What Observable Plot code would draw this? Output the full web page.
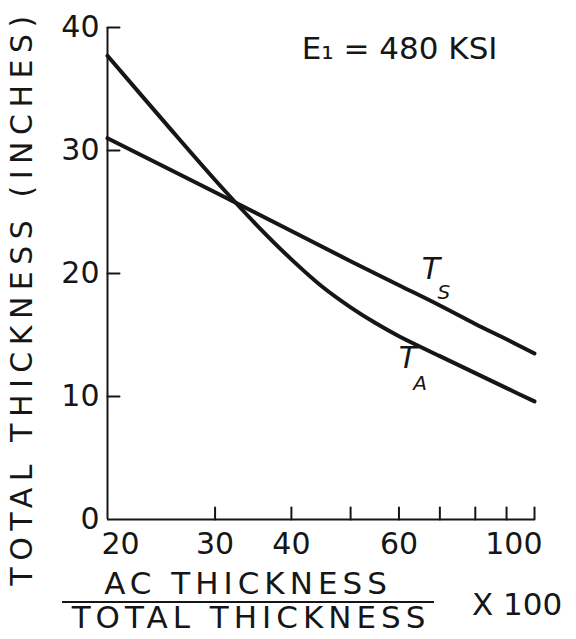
<!DOCTYPE html>
<html>
<head>
<meta charset="utf-8">
<script src="https://cdn.jsdelivr.net/npm/d3@7"></script>
<script src="https://cdn.jsdelivr.net/npm/@observablehq/plot@0.6"></script>
<style>
  html, body { margin: 0; padding: 0; background: #ffffff; }
  #chart { width: 576px; height: 639px; }
  #chart svg text { font-family: "DejaVu Sans", sans-serif; }
</style>
</head>
<body>
<div id="chart"></div>
<script>
// ---- data ----
const ratioA = [20, 25, 30, 35, 40, 45, 50, 55, 60, 70, 80, 90, 100];        // AC thickness / total thickness x 100
const thickA = [37.7, 32.1, 27.6, 24.0, 21.15, 18.9, 17.25, 15.95, 14.9, 13.28, 11.9, 10.68, 9.6]; // T_A (inches)
const ratioS = [20, 30, 40, 50, 60, 70, 80, 90, 100];
const thickS = [31.0, 26.6, 23.45, 21.0, 19.05, 17.4, 15.9, 14.65, 13.5];     // T_S (inches)
const xTicks = [30, 40, 50, 60, 70, 80, 90, 100];
const xTickLabels = [20, 30, 40, 60, 100];
const yTicks = [10, 20, 30, 40];
const yTickLabels = [0, 10, 20, 30, 40];
const yTitle = "TOTAL THICKNESS (INCHES)";
const xTitleTop = "AC THICKNESS";
const xTitleBottom = "TOTAL THICKNESS";
const xTitleFactor = "X 100";
const note = "E\u2081 = 480 KSI";
const seriesNames = ["T", "T"];
const seriesSubs = ["S", "A"];

// ---- build tables ----
const rowsA = ratioA.map((r, i) => ({r, t: thickA[i]}));
const rowsS = ratioS.map((r, i) => ({r, t: thickS[i]}));
const labS = rowsS.find(d => d.r === 70);
const labA = rowsA.find(d => d.r === 60);

const ink = "#161616";
const tickShape = {draw(ctx, l) { ctx.moveTo(0, 0); ctx.lineTo(0, -l); }};

const chart = Plot.plot({
  width: 576,
  height: 639,
  marginLeft: 107,
  marginRight: 42,
  marginTop: 27,
  marginBottom: 120,
  x: {type: "log", domain: [20, 100], axis: null},
  y: {domain: [0, 40], axis: null},
  style: {background: "#ffffff", color: ink, fontFamily: "DejaVu Sans"},
  marks: [
    // axis lines
    Plot.ruleX([20], {y1: 0, y2: 40, stroke: ink, strokeWidth: 2}),
    Plot.ruleY([0], {x1: 20, x2: 100, stroke: ink, strokeWidth: 2}),
    // inward ticks
    Plot.vector(xTicks, {x: d => d, y: () => 0, length: 12, anchor: "start", rotate: 0, shape: tickShape, stroke: ink, strokeWidth: 2}),
    Plot.vector(yTicks, {x: () => 20, y: d => d, length: 12, anchor: "start", rotate: 90, shape: tickShape, stroke: ink, strokeWidth: 2}),
    // tick labels
    Plot.text(yTickLabels, {x: () => 20, y: d => d, text: d => String(d), textAnchor: "end", lineAnchor: "middle", dx: -8, fontSize: 30, fill: ink}),
    Plot.text(xTickLabels.slice(1, -1), {x: d => d, y: () => 0, text: d => String(d), lineAnchor: "middle", dy: 25, fontSize: 30, fill: ink}),
    Plot.text(xTickLabels.slice(0, 1), {x: d => d, y: () => 0, text: d => String(d), textAnchor: "start", lineAnchor: "middle", dx: -6, dy: 25, fontSize: 30, fill: ink}),
    Plot.text(xTickLabels.slice(-1), {x: d => d, y: () => 0, text: d => String(d), textAnchor: "end", lineAnchor: "middle", dx: 8, dy: 25, fontSize: 30, fill: ink}),
    // curves
    Plot.line(rowsS, {x: "r", y: "t", stroke: ink, strokeWidth: 4, curve: "catmull-rom"}),
    Plot.line(rowsA, {x: "r", y: "t", stroke: ink, strokeWidth: 4, curve: "catmull-rom"}),
    // curve labels
    Plot.text([labS], {x: "r", y: "t", text: () => seriesNames[0], dx: -9, dy: -36, fontSize: 30, fontStyle: "italic", fill: ink}),
    Plot.text([labS], {x: "r", y: "t", text: () => seriesSubs[0], dx: 4, dy: -13, fontSize: 20, fontStyle: "italic", fill: ink}),
    Plot.text([labA], {x: "r", y: "t", text: () => seriesNames[1], dx: 9, dy: 22, fontSize: 30, fontStyle: "italic", fill: ink}),
    Plot.text([labA], {x: "r", y: "t", text: () => seriesSubs[1], dx: 21, dy: 47, fontSize: 20, fontStyle: "italic", fill: ink}),
    // note
    Plot.text([note], {frameAnchor: "top-right", textAnchor: "end", lineAnchor: "middle", dx: -37, dy: 22, fontSize: 31, fill: ink}),
    // axis titles
    Plot.text([yTitle], {frameAnchor: "left", textAnchor: "middle", lineAnchor: "middle", rotate: -90, dx: -85, dy: 24, fontSize: 30, fill: ink, className: "spaced-y"}),
    Plot.text([xTitleTop], {frameAnchor: "bottom", textAnchor: "middle", lineAnchor: "middle", dx: -73, dy: 65, fontSize: 31, fill: ink, className: "spaced-x"}),
    Plot.text([xTitleBottom], {frameAnchor: "bottom", textAnchor: "middle", lineAnchor: "middle", dx: -70, dy: 99, fontSize: 31, fill: ink, className: "spaced-x"}),
    Plot.text([xTitleFactor], {frameAnchor: "bottom", textAnchor: "middle", lineAnchor: "middle", dx: 196, dy: 86, fontSize: 31, fill: ink})
  ]
});

document.getElementById("chart").appendChild(chart);

// letter spacing of the titles
const svg = d3.select(chart);
svg.selectAll(".spaced-y text").attr("letter-spacing", 6.5);
svg.selectAll(".spaced-x text").attr("letter-spacing", 5);

// fraction bar between the two x-title lines
svg.append("line")
  .attr("x1", 62).attr("x2", 434)
  .attr("y1", 602).attr("y2", 602)
  .attr("stroke", ink).attr("stroke-width", 2);
</script>
</body>
</html>
